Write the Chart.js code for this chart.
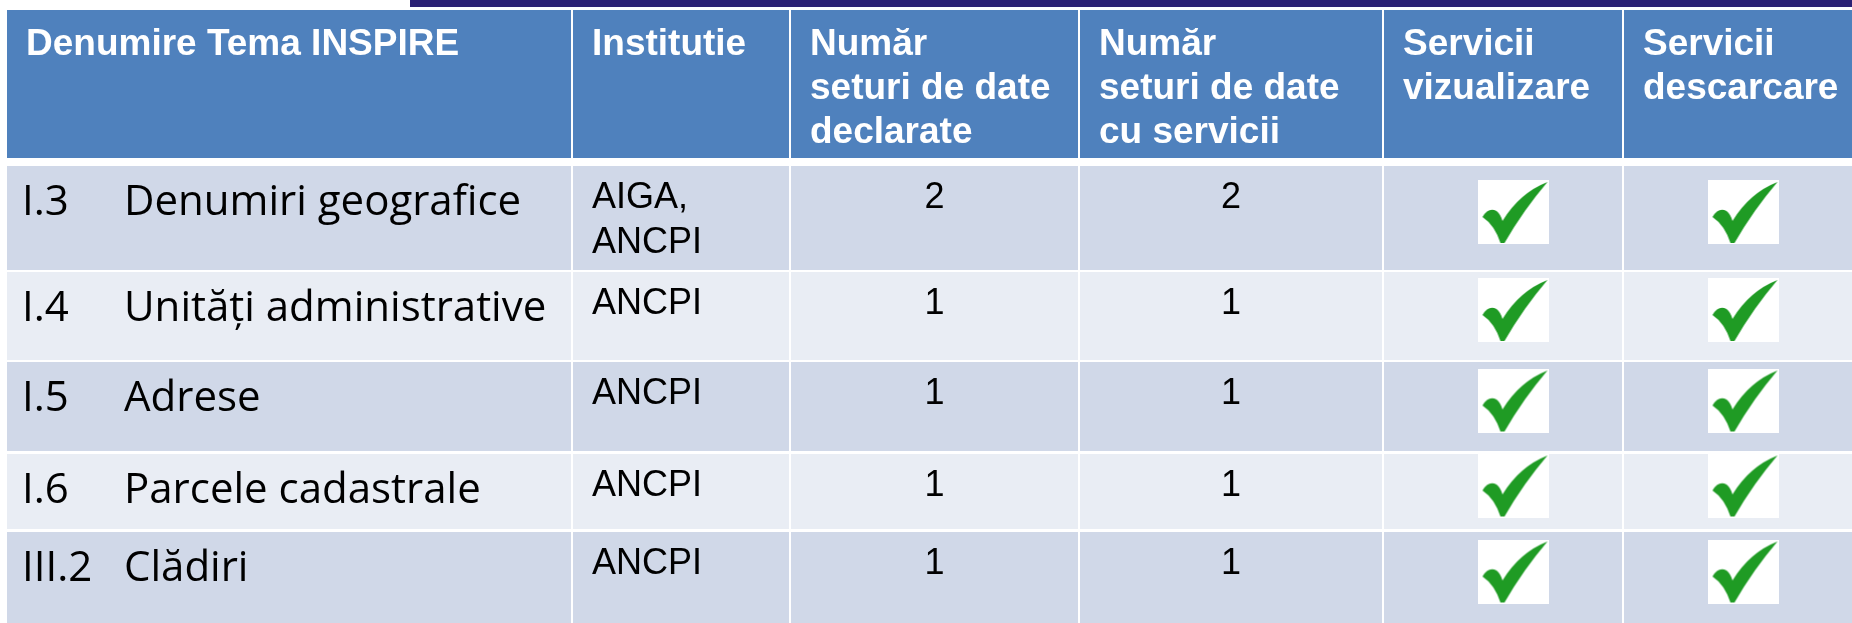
<!DOCTYPE html>
<html>
<head>
<meta charset="utf-8">
<title>Teme INSPIRE</title>
<script src="https://cdn.jsdelivr.net/npm/chart.js@4.4.1/dist/chart.umd.min.js"></script>
<style>
  html, body { margin: 0; padding: 0; background: #fff; overflow: hidden; }
  canvas { display: block; }
</style>
</head>
<body>
<canvas id="inspireTable" width="1852" height="623"></canvas>
<script>
// table content
const headers = [
  ['Denumire Tema INSPIRE'],
  ['Institutie'],
  ['Număr', 'seturi de date', 'declarate'],
  ['Număr', 'seturi de date', 'cu servicii'],
  ['Servicii', 'vizualizare'],
  ['Servicii', 'descarcare']
];
const themeCodes = ['I.3', 'I.4', 'I.5', 'I.6', 'III.2'];
const themeNames = ['Denumiri geografice', 'Unități administrative', 'Adrese', 'Parcele cadastrale', 'Clădiri'];
const institutions = [['AIGA,', 'ANCPI'], ['ANCPI'], ['ANCPI'], ['ANCPI'], ['ANCPI']];
const declaredSets = [2, 1, 1, 1, 1];
const servicedSets = [2, 1, 1, 1, 1];
const viewServices = [true, true, true, true, true];
const downloadServices = [true, true, true, true, true];

// layout (in pixel units of the x / y scales)
const colLeft = [7, 573, 791, 1080, 1384, 1624];
const colRight = [571, 789, 1078, 1382, 1622, 1862];
const rowTop = [10, 166, 272, 362, 454, 532];
const rowBottom = [158, 270, 360, 451, 529, 623];

const HEAD_BG = '#4f81bd';
const ODD_BG = '#d0d8e8';
const EVEN_BG = '#e9edf4';
const ARIAL = '"Liberation Sans", Arial, sans-serif';
const CALIBRI = '"Open Sans", "Noto Sans", sans-serif';

// check mark picture: white box with a green tick
function makeCheck() {
  const c = document.createElement('canvas');
  c.width = 71;
  c.height = 64;
  const g = c.getContext('2d');
  g.fillStyle = '#ffffff';
  g.fillRect(0, 0, 71, 64);
  g.fillStyle = '#1f9b24';
  g.beginPath();
  g.moveTo(5, 37);
  g.quadraticCurveTo(11, 27, 19, 31);
  g.quadraticCurveTo(23, 34, 25, 41);
  g.quadraticCurveTo(42, 13, 70, 2);
  g.quadraticCurveTo(46, 30, 27, 63);
  g.lineTo(23, 63);
  g.quadraticCurveTo(17, 45, 5, 37);
  g.closePath();
  g.fill();
  return c;
}
const checkImg = makeCheck();

const cellCenterX = c => (colLeft[c] + colRight[c]) / 2;
const cellCenterY = r => (rowTop[r] + rowBottom[r]) / 2;

// one point per "true" cell, placed at the middle of its cell
const checkPoints = (flags, col, nudge) => flags
  .map((ok, i) => ok ? { x: cellCenterX(col) + nudge, y: cellCenterY(i + 1) - 6 } : null)
  .filter(p => p);

const tablePlugin = {
  id: 'tablePlugin',
  beforeDatasetsDraw(chart) {
    const { ctx, scales } = chart;
    const px = v => scales.x.getPixelForValue(v);
    const py = v => scales.y.getPixelForValue(v);

    ctx.save();
    // dark strip over the top
    ctx.fillStyle = '#2b2174';
    ctx.fillRect(px(410), py(0), px(1852) - px(410), py(7) - py(0));

    // cells
    for (let r = 0; r < rowTop.length; r++) {
      ctx.fillStyle = r === 0 ? HEAD_BG : (r % 2 ? ODD_BG : EVEN_BG);
      for (let c = 0; c < colLeft.length; c++) {
        ctx.fillRect(px(colLeft[c]), py(rowTop[r]),
          px(colRight[c]) - px(colLeft[c]), py(rowBottom[r]) - py(rowTop[r]));
      }
    }

    // header text
    ctx.textBaseline = 'alphabetic';
    ctx.textAlign = 'left';
    ctx.fillStyle = '#ffffff';
    ctx.font = 'bold 37px ' + ARIAL;
    headers.forEach((lines, c) => {
      lines.forEach((t, i) => ctx.fillText(t, px(colLeft[c] + 19), py(rowTop[0] + 45 + i * 44)));
    });

    // body text
    ctx.fillStyle = '#000000';
    themeCodes.forEach((code, i) => {
      const r = i + 1;
      ctx.textAlign = 'left';
      ctx.font = '42px ' + CALIBRI;
      ctx.fillText(code, px(colLeft[0] + 15), py(rowTop[r] + 49));
      ctx.fillText(themeNames[i], px(colLeft[0] + 117), py(rowTop[r] + 49));

      ctx.font = '36px ' + ARIAL;
      institutions[i].forEach((t, k) => ctx.fillText(t, px(colLeft[1] + 19), py(rowTop[r] + 42 + k * 45)));

      ctx.textAlign = 'center';
      ctx.fillText(String(declaredSets[i]), px(cellCenterX(2)), py(rowTop[r] + 42));
      ctx.fillText(String(servicedSets[i]), px(cellCenterX(3)), py(rowTop[r] + 42));
    });
    ctx.restore();
  }
};

new Chart(document.getElementById('inspireTable'), {
  type: 'scatter',
  data: {
    datasets: [
      {
        label: 'Servicii vizualizare',
        data: checkPoints(viewServices, 4, 10),
        pointStyle: checkImg,
        pointRadius: 32,
        clip: false
      },
      {
        label: 'Servicii descarcare',
        data: checkPoints(downloadServices, 5, 0),
        pointStyle: checkImg,
        pointRadius: 32,
        clip: false
      }
    ]
  },
  options: {
    responsive: false,
    animation: false,
    devicePixelRatio: 1,
    events: [],
    layout: { padding: 0, autoPadding: false },
    plugins: {
      legend: { display: false },
      tooltip: { enabled: false },
      title: { display: false }
    },
    scales: {
      x: { type: 'linear', display: false, min: 0, max: 1852 },
      y: { type: 'linear', display: false, min: 0, max: 623, reverse: true }
    }
  },
  plugins: [tablePlugin]
});
</script>
</body>
</html>
